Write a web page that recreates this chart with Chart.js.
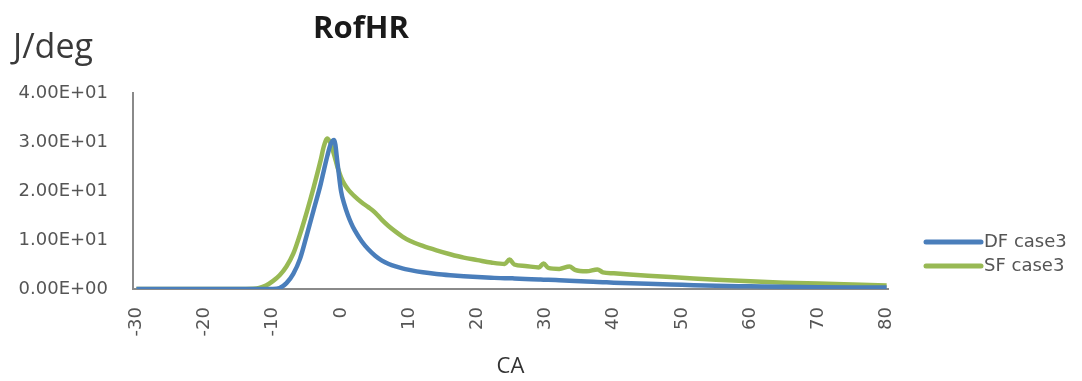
<!DOCTYPE html>
<html>
<head>
<meta charset="utf-8">
<title>RofHR</title>
<script src="https://cdn.jsdelivr.net/npm/chart.js@4/dist/chart.umd.min.js"></script>
<style>
  html, body { margin: 0; padding: 0; background: #ffffff; }
  #wrap { width: 1082px; height: 381px; }
</style>
</head>
<body>
<div id="wrap"><canvas id="chart" width="1082" height="381"></canvas></div>
<script>
// Crank angle (deg) sample positions
const caDeg = [-30, -20, -14, -12, -11, -10, -9, -8, -7, -6, -5, -4, -3, -2.5, -2, -1.5, -1, -0.5,
  0, 0.5, 1, 1.5, 2, 3, 4, 5, 6, 7, 8, 9, 10, 12, 14, 16, 18, 20, 22, 24, 24.7, 25.4, 27, 29, 29.7,
  30.4, 32, 33.5, 34.3, 36, 37.6, 38.4, 40, 45, 50, 55, 60, 65, 70, 75, 80];

// Rate of heat release, J/deg
const dfCase3 = [0, 0, 0, 0, 0, 0, 0.2, 1.2, 3.1, 6.2, 11.1, 16.2, 21.3, 24.3, 27.2, 29.6, 30.4, 25.5,
  20.0, 17.2, 15.1, 13.4, 12.0, 9.8, 8.1, 6.8, 5.8, 5.1, 4.6, 4.2, 3.9, 3.4, 3.05, 2.8, 2.6, 2.45, 2.3, 2.2, 2.2, 2.15, 2.05, 1.95, 1.9,
  1.9, 1.8, 1.7, 1.65, 1.55, 1.45, 1.4, 1.3, 1.05, 0.85, 0.65, 0.55, 0.45, 0.38, 0.33, 0.3];

const sfCase3 = [0, 0, 0, 0.2, 0.7, 1.6, 2.8, 4.6, 7.2, 11.2, 15.8, 20.8, 26.2, 29.2, 30.7, 29.6, 27.3, 24.8,
  22.8, 21.4, 20.4, 19.6, 18.9, 17.7, 16.7, 15.6, 14.1, 12.8, 11.7, 10.7, 9.9, 8.8, 7.9, 7.1, 6.4, 5.9, 5.4, 5.1, 6.0, 5.0, 4.7, 4.4, 5.2,
  4.3, 4.1, 4.6, 3.9, 3.6, 4.0, 3.4, 3.2, 2.7, 2.3, 1.9, 1.6, 1.3, 1.1, 0.9, 0.7];

const seriesNames = ['DF case3', 'SF case3'];
const caTicks = [-30, -20, -10, 0, 10, 20, 30, 40, 50, 60, 70, 80];
const yTicks = [0, 10, 20, 30, 40];

const chartTitle = 'RofHR';
const yUnit = 'J/deg';
const xTitle = 'CA';

const colors = ['#4A7EBB', '#98B954'];

function toPoints(values) {
  return caDeg.map((x, i) => ({ x: x, y: values[i] }));
}

// Excel-style scientific label, e.g. 3.00E+01
function sciLabel(v) {
  if (v === 0) return '0.00E+00';
  const exp = Math.floor(Math.log10(Math.abs(v)));
  const mant = v / Math.pow(10, exp);
  const sign = exp < 0 ? '-' : '+';
  const e = String(Math.abs(exp)).padStart(2, '0');
  return mant.toFixed(2) + 'E' + sign + e;
}

// Free-standing texts: chart title, unit label and the legend on the right
const decorations = {
  id: 'decorations',
  afterDraw(chart) {
    const ctx = chart.ctx;
    ctx.save();
    ctx.textBaseline = 'alphabetic';
    ctx.textAlign = 'center';
    ctx.fillStyle = '#1a1a1a';
    ctx.font = 'bold 31px "Open Sans", sans-serif';
    ctx.fillText(chartTitle, 361, 38);

    ctx.textAlign = 'left';
    ctx.fillStyle = '#3a3a3a';
    ctx.font = '34px "Open Sans", sans-serif';
    ctx.fillText(yUnit, 13, 58);

    const rows = [242, 266];
    chart.data.datasets.forEach((ds, i) => {
      const y = rows[i];
      ctx.strokeStyle = ds.borderColor;
      ctx.lineWidth = 5;
      ctx.lineCap = 'round';
      ctx.beginPath();
      ctx.moveTo(926, y);
      ctx.lineTo(981, y);
      ctx.stroke();
      ctx.fillStyle = '#555555';
      ctx.font = '18px "DejaVu Sans", sans-serif';
      ctx.textBaseline = 'middle';
      ctx.fillText(ds.label, 984, y);
    });
    ctx.restore();
  }
};

new Chart(document.getElementById('chart'), {
  type: 'line',
  data: {
    datasets: [
      {
        label: seriesNames[0],
        data: toPoints(dfCase3),
        borderColor: colors[0],
        backgroundColor: colors[0],
        borderWidth: 4.5,
        pointRadius: 0,
        cubicInterpolationMode: 'monotone',
        fill: false
      },
      {
        label: seriesNames[1],
        data: toPoints(sfCase3),
        borderColor: colors[1],
        backgroundColor: colors[1],
        borderWidth: 4.5,
        pointRadius: 0,
        cubicInterpolationMode: 'monotone',
        fill: false
      }
    ]
  },
  options: {
    responsive: false,
    animation: false,
    layout: { padding: { top: 93, right: 194, bottom: 0, left: 0 } },
    plugins: {
      legend: { display: false },
      title: { display: false },
      tooltip: { enabled: false }
    },
    scales: {
      x: {
        type: 'linear',
        min: -30.5,
        max: 80.2,
        afterBuildTicks(axis) { axis.ticks = caTicks.map(v => ({ value: v })); },
        afterFit(axis) { axis.height = 92; },
        grid: { display: false, drawTicks: false },
        border: { display: true, color: '#8a8a8a', width: 2 },
        ticks: {
          autoSkip: false,
          minRotation: 90,
          maxRotation: 90,
          padding: 18,
          color: '#555555',
          font: { family: '"DejaVu Sans", sans-serif', size: 18 },
          callback: v => String(v)
        },
        title: {
          display: true,
          text: xTitle,
          color: '#333333',
          font: { family: '"Open Sans", sans-serif', size: 22 },
          padding: { top: 0, bottom: 1 }
        }
      },
      y: {
        min: 0,
        max: 40,
        afterBuildTicks(axis) { axis.ticks = yTicks.map(v => ({ value: v })); },
        afterFit(axis) { axis.width = 133; },
        grid: { display: false, drawTicks: false },
        border: { display: true, color: '#8a8a8a', width: 2 },
        ticks: {
          padding: 25,
          color: '#555555',
          font: { family: '"DejaVu Sans", sans-serif', size: 18 },
          callback: v => sciLabel(v)
        }
      }
    }
  },
  plugins: [decorations]
});
</script>
</body>
</html>
